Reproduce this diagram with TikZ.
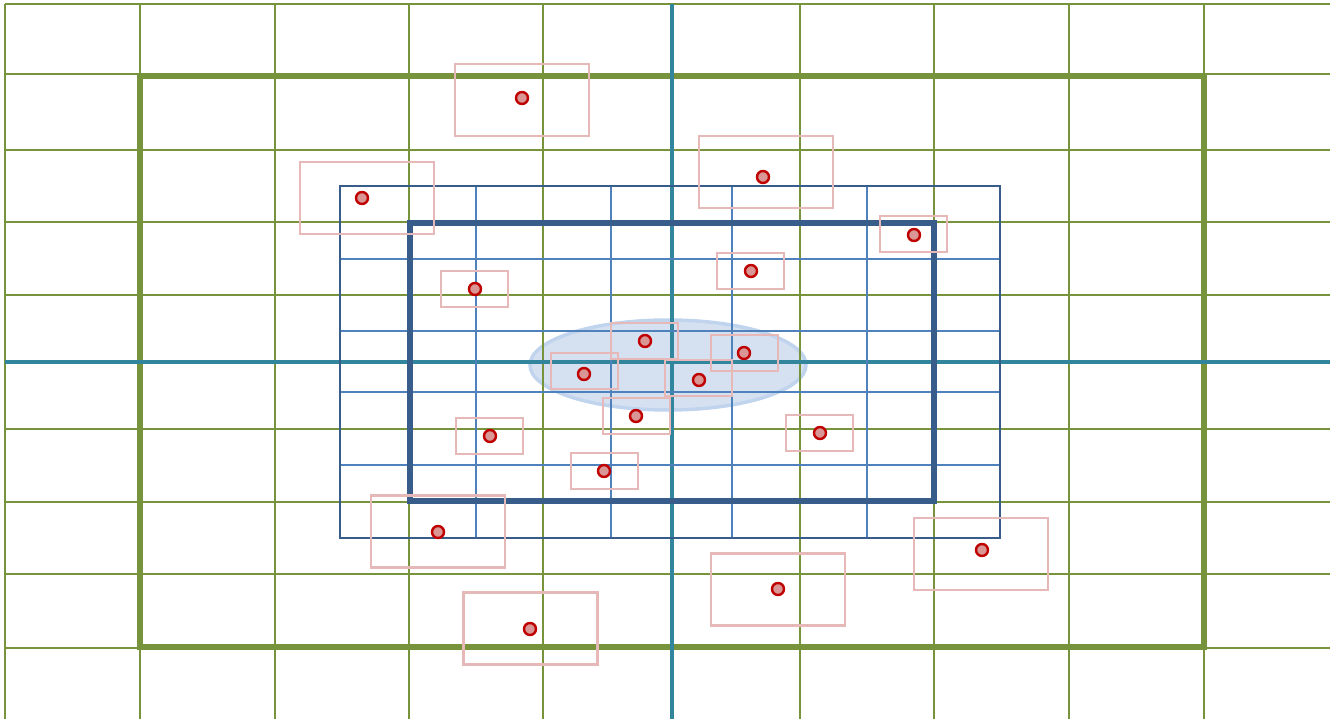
\documentclass[tikz,border=0pt]{standalone}
\begin{document}
\begin{tikzpicture}[x=1pt,y=-1pt,
  gline/.style={draw=grn,line width=2.8pt},
  tline/.style={draw=teal2,line width=3.4pt},
  bline/.style={draw=blu,line width=2.6pt},
  pbox/.style={draw=pnk,line width=2.6pt,rectangle,inner sep=0pt},
  sbox/.style={pbox,minimum width=67pt,minimum height=36pt},
  lbox/.style={pbox,minimum width=134pt,minimum height=72pt},
  dot/.style={circle,draw=red2,fill=dred,line width=2.4pt,inner sep=0pt,minimum size=12pt}]
\definecolor{grn}{HTML}{77933C}
\definecolor{teal2}{HTML}{31859C}
\definecolor{blu}{HTML}{4F81BD}
\definecolor{dblu}{HTML}{385D8A}
\definecolor{pnk}{HTML}{E6B9B8}
\definecolor{red2}{HTML}{C00000}
\definecolor{dred}{HTML}{D99694}
\definecolor{ell}{HTML}{D5E1F1}
\definecolor{elle}{HTML}{C0D4EE}
\useasboundingbox (0,0) rectangle (1330,719);
% ellipse underneath
\filldraw[fill=ell,draw=elle,line width=3.5pt] (668,365) ellipse [x radius=138, y radius=45];
% green grid
\foreach \x in {5,140,275,409,543,800,934,1069,1204}
  \draw[gline] (\x,4) -- (\x,719);
\foreach \y in {4,74,150,222,295,429,502,574,648}
  \draw[gline] (5,\y) -- (1330,\y);
\draw[grn,line width=5.5pt] (140,76) rectangle (1204,647);
\draw[tline] (672,4) -- (672,719);
\draw[tline] (5,362) -- (1330,362);
% blue grid
\foreach \x in {476,611,732,867}
  \draw[bline] (\x,186) -- (\x,538);
\foreach \y in {259,331,392,465}
  \draw[bline] (340,\y) -- (1000,\y);
\draw[dblu,line width=2.6pt] (340,186) rectangle (1000,538);
\draw[dblu,line width=5.5pt] (410,223) rectangle (934,501);
% boxes
\node[lbox] (b1) at (522,100) {};
\node[lbox] (b2) at (766,172) {};
\node[lbox] (b3) at (367,198) {};
\node[sbox] (b4) at (913.5,234) {};
\node[sbox] (b5) at (750.5,271) {};
\node[sbox] (b6) at (474.5,289) {};
\node[sbox] (b7) at (644.5,341) {};
\node[sbox] (b8) at (744.5,353) {};
\node[sbox] (b9) at (584.5,371) {};
\node[sbox] (b10) at (698.5,378) {};
\node[sbox] (b11) at (636.5,416) {};
\node[sbox] (b12) at (489.5,436) {};
\node[sbox] (b13) at (819.5,433) {};
\node[sbox] (b14) at (604.5,471) {};
\node[lbox] (b15) at (438,531.5) {};
\node[lbox] (b16) at (981,554) {};
\node[lbox] (b17) at (778,589.5) {};
\node[lbox] (b18) at (530.5,628.5) {};
% dots
\node[dot] (d1) at (522,98) {};
\node[dot] (d2) at (763,177) {};
\node[dot] (d3) at (362,198) {};
\node[dot] (d4) at (914,235) {};
\node[dot] (d5) at (751,271) {};
\node[dot] (d6) at (475,289) {};
\node[dot] (d7) at (645,341) {};
\node[dot] (d8) at (744,353) {};
\node[dot] (d9) at (584,374) {};
\node[dot] (d10) at (699,380) {};
\node[dot] (d11) at (636,416) {};
\node[dot] (d12) at (490,436) {};
\node[dot] (d13) at (820,433) {};
\node[dot] (d14) at (604,471) {};
\node[dot] (d15) at (438,532) {};
\node[dot] (d16) at (982,550) {};
\node[dot] (d17) at (778,589) {};
\node[dot] (d18) at (530,629) {};
\end{tikzpicture}
\end{document}
